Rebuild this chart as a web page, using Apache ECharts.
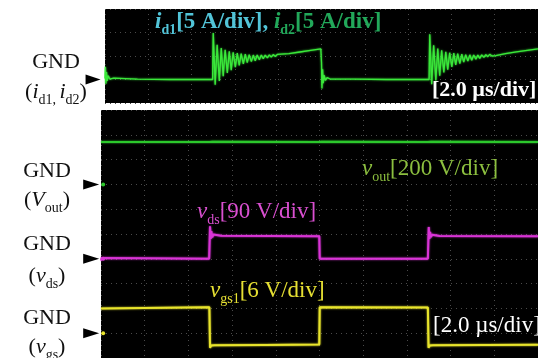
<!DOCTYPE html>
<html>
<head>
<meta charset="utf-8">
<script src="https://cdn.jsdelivr.net/npm/echarts@6.0.0/dist/echarts.min.js"></script>
<style>
  html, body { margin: 0; padding: 0; background: #fff; }
  #chart { width: 538px; height: 358px; }
</style>
</head>
<body>
<div id="chart"></div>
<script>
// time in us, values in the channel's own unit
const idTrace = [
  [0.00, 0.2], [0.02, 2.7], [0.04, -0.9], [0.07, 1.6], [0.10, -0.3], [0.15, 0.8], [0.22, 0.1], [0.4, 0.3], [1.5, 0.1], [3.0, 0.0], [4.97, 0.0],
  [5.00, 9.9], [5.09, -1.1], [5.18, 7.4], [5.28, -0.3], [5.37, 6.7], [5.46, 0.7], [5.55, 6.3], [5.65, 1.4], [5.74, 6.0], [5.83, 2.0],
  [5.92, 5.8], [6.02, 2.6], [6.11, 5.6], [6.20, 3.0], [6.29, 5.5], [6.39, 3.3], [6.48, 5.4], [6.57, 3.6], [6.66, 5.3], [6.76, 3.8],
  [6.85, 5.2], [6.94, 4.0], [7.03, 5.2], [7.13, 4.2], [7.22, 5.2], [7.31, 4.4], [7.40, 5.2], [7.50, 4.6], [7.59, 5.25], [7.68, 4.75],
  [7.77, 5.3], [7.87, 4.9], [7.96, 5.35], [8.05, 5.05], [8.5, 5.5], [9.0, 5.85], [9.5, 6.2], [9.97, 6.5],
  [10.00, 3.6], [10.02, -1.9], [10.05, 2.2], [10.08, -0.8], [10.12, 0.9], [10.18, -0.2], [10.26, 0.4], [10.4, 0.1], [11.5, 0.1], [13.0, 0.0], [14.97, 0.0],
  [15.00, 9.6], [15.09, -1.0], [15.18, 7.3], [15.28, -0.2], [15.37, 6.6], [15.46, 0.8], [15.55, 6.2], [15.65, 1.5], [15.74, 5.9], [15.83, 2.1],
  [15.92, 5.7], [16.02, 2.7], [16.11, 5.6], [16.20, 3.1], [16.29, 5.5], [16.39, 3.4], [16.48, 5.4], [16.57, 3.7], [16.66, 5.3], [16.76, 3.9],
  [16.85, 5.25], [16.94, 4.1], [17.03, 5.2], [17.13, 4.3], [17.22, 5.2], [17.31, 4.5], [17.40, 5.25], [17.50, 4.7], [17.59, 5.3], [17.68, 4.85],
  [17.77, 5.35], [17.87, 5.0], [17.96, 5.4], [18.05, 5.1], [18.5, 5.5], [19.0, 5.9], [19.5, 6.2], [20.0, 6.5]
];
const voutTrace = [
  [0, 342], [0.03, 350], [0.06, 336], [0.1, 342], [4.97, 342], [5.0, 352], [5.04, 334], [5.09, 344], [5.15, 342],
  [9.98, 342], [10.0, 350], [10.04, 335], [10.08, 343], [10.14, 342], [14.97, 342], [15.0, 352], [15.04, 334],
  [15.09, 344], [15.15, 342], [20, 342]
];
const vdsTrace = [
  [0, -6], [0.03, 3], [0.08, 0], [4.95, 0], [4.97, 60], [4.99, 118], [5.02, 72], [5.05, 100], [5.09, 78], [5.14, 88],
  [5.22, 82], [5.5, 84], [9.99, 82], [10.01, 0], [14.96, 0], [14.98, 60], [15.0, 115], [15.03, 72], [15.06, 98],
  [15.1, 79], [15.15, 87], [15.23, 82], [15.5, 83], [20, 82]
];
const vgsTrace = [
  [0, 6.0], [4.96, 6.25], [4.99, -3.5], [5.04, -3.0], [5.2, -2.9], [7.5, -2.85], [9.99, -2.75], [10.01, 6.3], [10.08, 6.1],
  [14.96, 6.2], [14.99, -3.5], [15.04, -3.0], [15.2, -2.9], [20, -2.8]
];

// scope settings: units per division and ground level in divisions from the bottom
const timeDiv = 2;        // us/div
const idDiv = 5, idGnd = 1, idDivs = 4;
const voutDiv = 200, voutGnd = 7;
const vdsDiv = 90, vdsGnd = 4;
const vgsDiv = 6, vgsGnd = 1;
const bottomDivs = 10;

const F = '"Liberation Serif", "DejaVu Serif", serif';

function richSet(key, color, size, bold) {
  const w = bold ? 'bold' : 'normal';
  const o = {};
  o[key + 'n'] = {fontFamily: F, fontSize: size, lineHeight: 30, fill: color, fontWeight: w};
  o[key + 'i'] = {fontFamily: F, fontSize: size, lineHeight: 30, fill: color, fontWeight: w, fontStyle: 'italic'};
  o[key + 's'] = {fontFamily: F, fontSize: Math.round(size * 0.62), lineHeight: 14, fill: color, fontWeight: w, verticalAlign: 'bottom'};
  return o;
}

function txt(x, y, text, rich, align) {
  return {
    type: 'text', x: x, y: y, z: 100,
    style: {text: text, rich: rich, align: align || 'left', verticalAlign: 'middle'}
  };
}

const black = richSet('k', '#111', 22, false);

const trace = (data, color, xi, yi, w) => ({
  type: 'line', data: data, xAxisIndex: xi, yAxisIndex: yi,
  showSymbol: false, animation: false, z: 3,
  lineStyle: {color: color, width: w, shadowBlur: 2, shadowColor: color}
});

const marker = (xi, yi, t, color, size, sym, rot) => ({
  type: 'scatter', xAxisIndex: xi, yAxisIndex: yi, data: [[t, 0]],
  symbol: sym || 'circle', symbolSize: size, symbolRotate: rot || 0,
  itemStyle: {color: color, opacity: 1}, clip: false, animation: false, z: 5, silent: true
});

const grid = {
  splitLine: {show: true, lineStyle: {color: '#4a4a4a', type: [1, 4], width: 1}},
  axisLine: {show: false}, axisTick: {show: false}, axisLabel: {show: false}
};
const hidden = {splitLine: {show: false}, axisLine: {show: false}, axisTick: {show: false}, axisLabel: {show: false}};

const chart = echarts.init(document.getElementById('chart'));
chart.setOption({
  backgroundColor: '#fff',
  animation: false,
  grid: [
    {left: 105, top: 9, width: 433, height: 94, show: true, backgroundColor: '#000', borderWidth: 0},
    {left: 101, top: 110, width: 440, height: 248, show: true, backgroundColor: '#000', borderWidth: 0}
  ],
  xAxis: [
    Object.assign({type: 'value', gridIndex: 0, min: 0, max: 10 * timeDiv, interval: timeDiv}, grid),
    Object.assign({type: 'value', gridIndex: 1, min: 0, max: 10 * timeDiv, interval: timeDiv}, grid)
  ],
  yAxis: [
    Object.assign({type: 'value', gridIndex: 0, min: -idGnd * idDiv, max: (idDivs - idGnd) * idDiv, interval: idDiv}, grid),
    Object.assign({type: 'value', gridIndex: 1, min: -voutGnd * voutDiv, max: (bottomDivs - voutGnd) * voutDiv, interval: voutDiv}, grid),
    Object.assign({type: 'value', gridIndex: 1, min: -vdsGnd * vdsDiv, max: (bottomDivs - vdsGnd) * vdsDiv}, hidden),
    Object.assign({type: 'value', gridIndex: 1, min: -vgsGnd * vgsDiv, max: (bottomDivs - vgsGnd) * vgsDiv}, hidden)
  ],
  series: [
    trace(idTrace, '#3ae83a', 0, 0, 1.3),
    trace(voutTrace, '#2cc82c', 1, 1, 2),
    trace(vdsTrace, '#d934d6', 1, 2, 2),
    trace(vgsTrace, '#e8e42c', 1, 3, 2),
    // channel ground dots at the left edge of the screen
    marker(1, 1, 0.1, '#2cc82c', 4),
    marker(1, 2, 0.1, '#d934d6', 4),
    marker(1, 3, 0.1, '#e8e42c', 4),
    // ground arrows outside the screen
    marker(0, 0, -0.55, '#000', [10, 15], 'triangle', -90),
    marker(1, 1, -0.45, '#000', [10, 16], 'triangle', -90),
    marker(1, 2, -0.45, '#000', [10, 16], 'triangle', -90),
    marker(1, 3, -0.45, '#000', [10, 16], 'triangle', -90)
  ],
  graphic: [
    txt(56, 62, '{kn|GND}', black, 'center'),
    txt(56, 92, '{kn|(}{ki|i}{ks|d1, }{ki|i}{ks|d2}{kn|)}', black, 'center'),
    txt(47, 171, '{kn|GND}', black, 'center'),
    txt(47, 200, '{kn|(}{ki|V}{ks|out}{kn|)}', black, 'center'),
    txt(47, 244, '{kn|GND}', black, 'center'),
    txt(47, 276, '{kn|(}{ki|v}{ks|ds}{kn|)}', black, 'center'),
    txt(47, 318, '{kn|GND}', black, 'center'),
    txt(47, 347, '{kn|(}{ki|v}{ks|gs}{kn|)}', black, 'center'),
    txt(155, 22, '{ai|i}{as|d1}{an|[5 A/div], }{bi|i}{bs|d2}{bn|[5 A/div]}',
      Object.assign(richSet('a', '#52c4d8', 23, true), richSet('b', '#22a85a', 23, true))),
    txt(432, 90, '{wn|[2.0 \u00b5s/div]}', richSet('w', '#fff', 22, true)),
    txt(362, 169, '{gi|v}{gs|out}{gn|[200 V/div]}', richSet('g', '#8cbf3f', 23, false)),
    txt(197, 212, '{mi|v}{ms|ds}{mn|[90 V/div]}', richSet('m', '#d94fd0', 23, false)),
    txt(210, 291, '{yi|v}{ys|gs1}{yn|[6 V/div]}', richSet('y', '#e6e033', 23, false)),
    txt(433, 326, '{wn|[2.0 \u00b5s/div]}', richSet('w', '#fff', 23, false))
  ]
});
</script>
</body>
</html>
